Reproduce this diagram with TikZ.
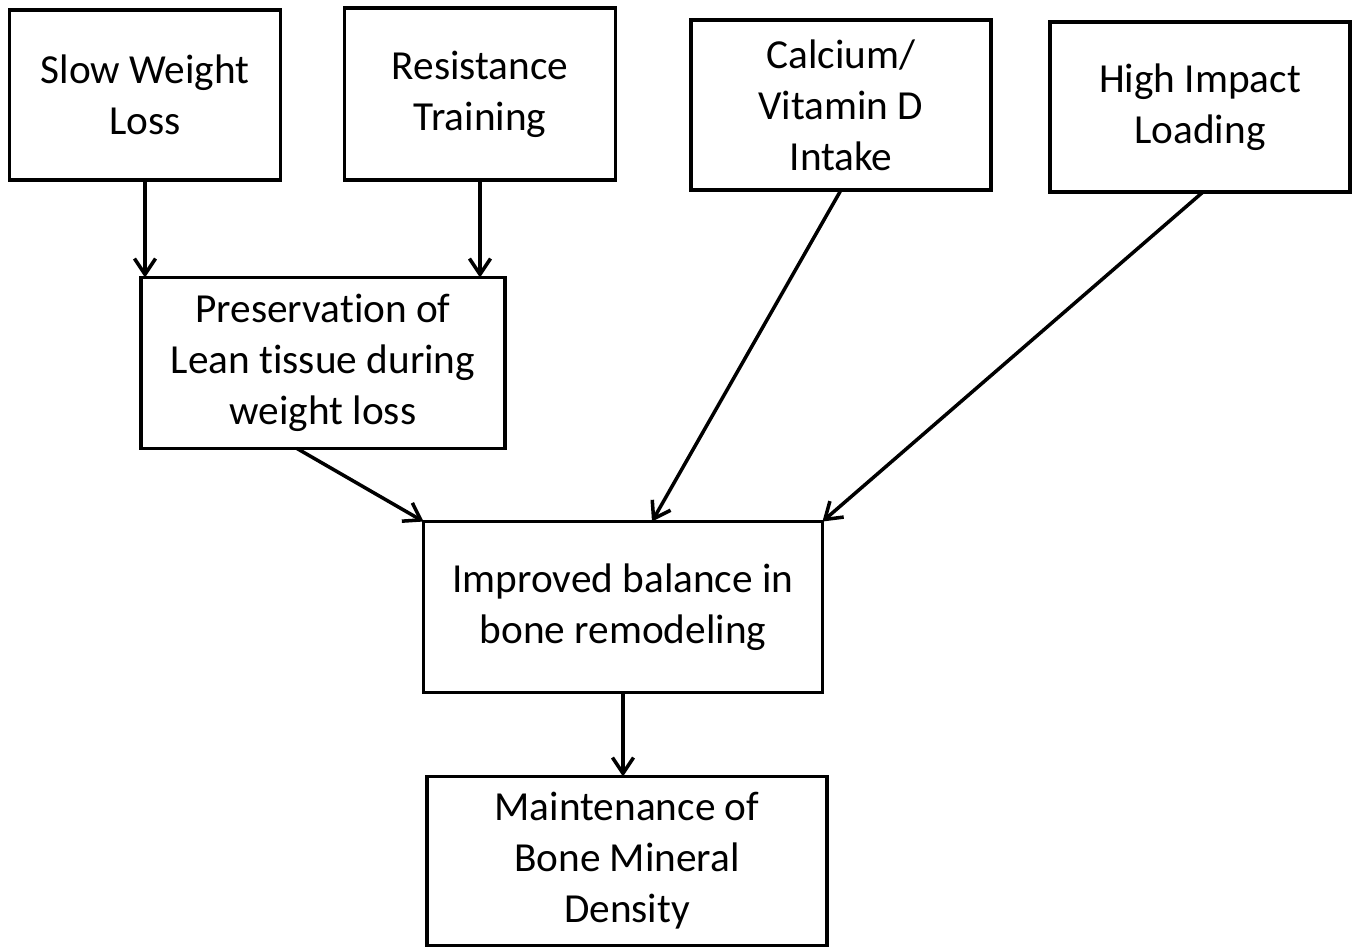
\documentclass[tikz,border=0pt]{standalone}
\usepackage{fontspec}
\setmainfont{Carlito}[Ligatures=NoCommon]
\usetikzlibrary{positioning,arrows.meta,calc}

\begin{document}
\begin{tikzpicture}[x=0.02cm, y=-0.02cm,
  every node/.style={font=\fontsize{23.5}{29}\selectfont},
  factor/.style={draw, line width=2pt, align=center, inner sep=0pt, outer sep=0pt},
  link/.style={line width=2pt, -{Straight Barb[length=9pt,width=12pt,line width=2pt]}}]
  \useasboundingbox (0,0) rectangle (1355,948);
  %----- 上層四個因素 -----
  \node[factor, minimum width=5.42cm, minimum height=3.4cm] (slow) at (145,95) {Slow Weight\\Loss};
  \node[factor, minimum width=5.42cm, minimum height=3.44cm] (resist) at (480,94) {Resistance\\Training};
  \node[factor, minimum width=6cm, minimum height=3.4cm] (calcium) at (841,105) {Calcium/\\Vitamin D\\Intake};
  \node[factor, minimum width=6cm, minimum height=3.4cm] (impact) at (1200,107) {High Impact\\Loading};
  %----- 中間 -----
  \node[factor, minimum width=7.28cm, minimum height=3.42cm] (lean) at (323,363) {Preservation of\\Lean tissue during\\weight loss};
  \node[factor, minimum width=7.98cm, minimum height=3.42cm] (balance) at (623,607) {Improved balance in\\bone remodeling};
  %----- 結果 -----
  \node[factor, minimum width=8cm, minimum height=3.38cm] (bmd) at (627,861) {Maintenance of\\Bone Mineral\\Density};

  %----- 箭頭 -----
  \draw[link] (slow.south) -- (slow.south |- lean.north);
  \draw[link] (resist.south) -- (resist.south |- lean.north);
  \draw[link] ($(lean.south)+(-26,0)$) -- (balance.north west);
  \draw[link] (calcium.south) -- ($(balance.north)+(29,0)$);
  \draw[link] ($(impact.south)+(3,0)$) -- (balance.north east);
  \draw[link] (balance.south) -- (balance.south |- bmd.north);
\end{tikzpicture}
\end{document}
